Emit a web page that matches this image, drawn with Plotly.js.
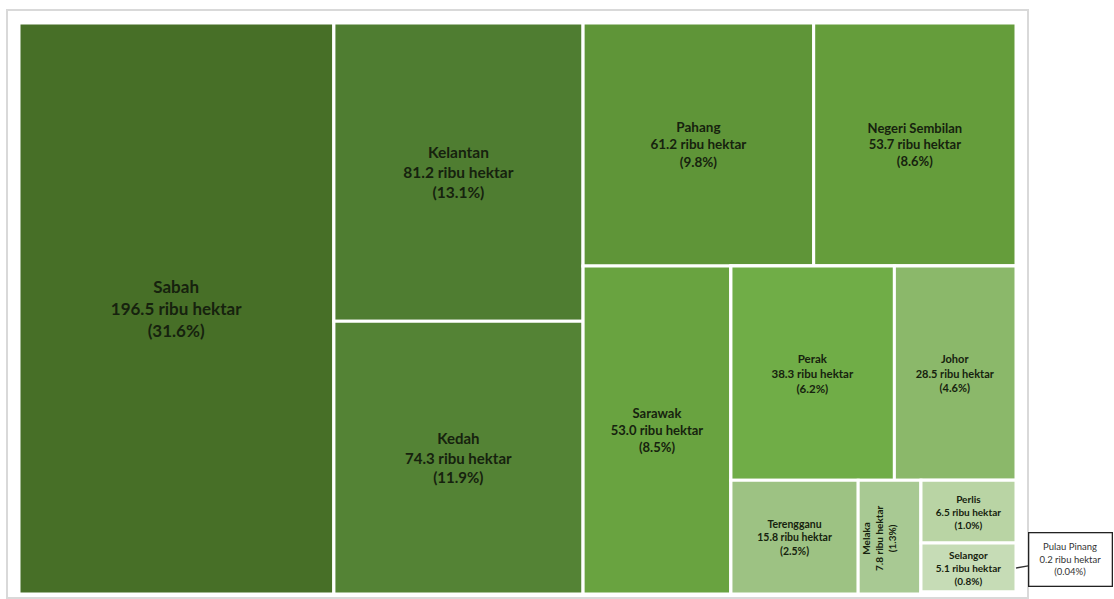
<!DOCTYPE html>
<html><head><meta charset="utf-8">
<script src="https://cdn.plot.ly/plotly-3.0.1.min.js"></script>
<style>body{margin:0;background:#fff}</style></head><body>
<div id="chart" style="width:1114px;height:599px"></div>
<script>
// ---- data ----
const states = ['Sabah','Kelantan','Kedah','Pahang','Negeri Sembilan','Sarawak','Perak','Johor','Terengganu','Melaka','Perlis','Selangor','Pulau Pinang'];
const areas  = [196.5, 81.2, 74.3, 61.2, 53.7, 53.0, 38.3, 28.5, 15.8, 7.8, 6.5, 5.1, 0.2];
const shares = ['31.6','13.1','11.9','9.8','8.6','8.5','6.2','4.6','2.5','1.3','1.0','0.8','0.04'];
const unit = 'ribu hektar';
const stateColors = ['#476f27','#4f7d31','#548335','#5f9538','#659d3b','#69a340','#70ad47','#8bb86a','#9dc283','#a8c993','#b9d4a4','#c6dcb6','#e2eedb'];
const labelSizes = [17, 15.5, 15, 13.5, 13, 13, 11.5, 11, 10.5, 10, 10, 10, 9.5];

// layout structure of the tiles (invisible grouping nodes)
const order = ['root','Sabah','g1','Kelantan','Kedah','g2','g2a','Pahang','Negeri Sembilan','g2b','Sarawak','g3','g3a','Perak','Johor','g3b','Terengganu','Melaka','g4','Perlis','Selangor','Pulau Pinang'];
const parentOf = {root:'', Sabah:'root', g1:'root', Kelantan:'g1', Kedah:'g1', g2:'root', g2a:'g2', Pahang:'g2a', 'Negeri Sembilan':'g2a',
  g2b:'g2', Sarawak:'g2b', g3:'g2b', g3a:'g3', Perak:'g3a', Johor:'g3a', g3b:'g3', Terengganu:'g3b', Melaka:'g3b', g4:'g3b',
  Perlis:'g4', Selangor:'g4', 'Pulau Pinang':'g4'};
const externalLabels = ['Melaka','Pulau Pinang'];

const ids=[], labels=[], parents=[], values=[], colors=[], texts=[], sizes=[];
order.forEach(n => {
  const i = states.indexOf(n);
  ids.push(n); parents.push(parentOf[n]);
  if (i >= 0) {
    labels.push(n); values.push(areas[i]); colors.push(stateColors[i]);
    texts.push(externalLabels.includes(n) ? '' :
      '<b>' + n + '<br>' + areas[i].toFixed(1) + ' ' + unit + '<br>(' + shares[i] + '%)</b>');
    sizes.push(labelSizes[i]);
  } else {
    labels.push(''); values.push(0); colors.push('#ffffff'); texts.push(''); sizes.push(10);
  }
});

function lbl(n, bold){
  const i = states.indexOf(n);
  const s = n + '<br>' + areas[i].toFixed(1) + ' ' + unit + '<br>(' + shares[i] + '%)';
  return bold ? '<b>' + s + '</b>' : s;
}

const FONT = 'Lato, "Open Sans", sans-serif';
const W = 1114, H = 599;
const trace = {
  type: 'treemap',
  ids: ids, labels: labels, parents: parents, values: values,
  branchvalues: 'remainder',
  sort: false,
  text: texts,
  textinfo: 'text',
  textposition: 'middle center',
  textfont: {family: FONT, size: sizes, color: '#16220e', weight: 'bold'},
  marker: {colors: colors, line: {color: '#ffffff', width: 3}, pad: {t: 0, l: 0, r: 0, b: 0}, depthfade: false},
  tiling: {packing: 'slice-dice', pad: 0},
  pathbar: {visible: false},
  hoverinfo: 'label+value',
  domain: {x: [19/W, 1016/W], y: [1 - 594/H, 1 - 23/H]}
};

const layout = {
  width: W, height: H,
  margin: {l: 0, r: 0, t: 0, b: 0},
  paper_bgcolor: '#ffffff',
  font: {family: FONT},
  shapes: [{type: 'rect', xref: 'paper', yref: 'paper', x0: 7/W, x1: 1028/W, y0: 1 - 598/H, y1: 1 - 10/H,
            line: {color: '#d9d9d9', width: 2}, fillcolor: 'rgba(0,0,0,0)', layer: 'below'}],
  annotations: [
    {xref: 'paper', yref: 'paper', x: 879/W, y: 1 - 538/H, xanchor: 'center', yanchor: 'middle',
     text: lbl('Melaka', true), showarrow: false,
     textangle: -90, font: {size: 10, color: '#16220e', family: FONT, weight: 'bold'}},
    {xref: 'paper', yref: 'paper', x: 1016/W, y: 1 - 568/H, ax: 54, ay: -9, text: lbl('Pulau Pinang', false),
     showarrow: true, arrowhead: 0, arrowwidth: 1.3, arrowcolor: '#333333',
     bordercolor: '#222222', borderwidth: 1.3, borderpad: 4, bgcolor: '#ffffff', width: 74, height: 44,
     font: {size: 9.5, color: '#333333', family: FONT}}
  ]
};

Plotly.newPlot('chart', [trace], layout, {displayModeBar: false, staticPlot: true});
</script>
</body></html>
